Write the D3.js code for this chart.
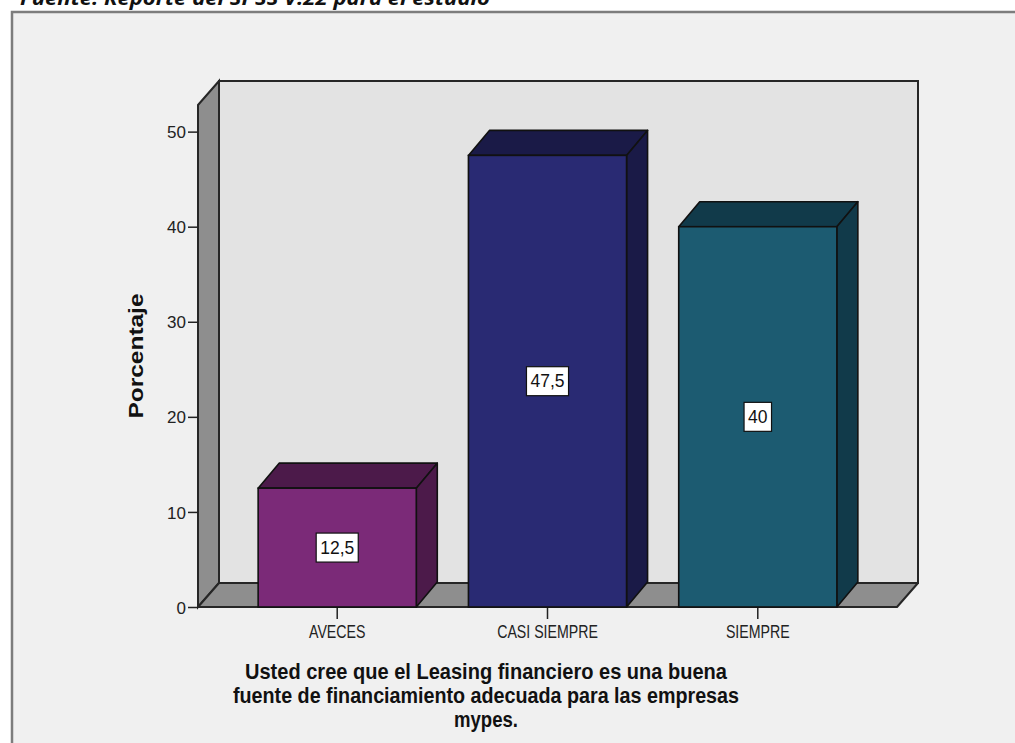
<!DOCTYPE html>
<html>
<head>
<meta charset="utf-8">
<script src="https://cdn.jsdelivr.net/npm/d3@7"></script>
<style>
  html, body { margin: 0; padding: 0; background: #ffffff; }
  svg { display: block; }
  text { font-family: "Liberation Sans", Arial, sans-serif; }
</style>
</head>
<body>
<svg id="chart" width="1015" height="743"></svg>
<script>
// ---- data ----
const categories = ["AVECES", "CASI SIEMPRE", "SIEMPRE"];
const percentages = [12.5, 47.5, 40];
const yTicks = [0, 10, 20, 30, 40, 50];
const frontColors = ["#7b2a78", "#292a73", "#1c5b71"];
const shadeColors = ["#4c1a4a", "#1a1a47", "#113a4a"];
const yTitle = "Porcentaje";
const xTitleLines = [
  "Usted cree que el Leasing financiero es una buena",
  "fuente de financiamiento adecuada para las empresas",
  "mypes."
];
const caption = "Fuente: Reporte del SPSS V.22 para el estudio";

// ---- geometry ----
const svg = d3.select("#chart");
const floorY = 607, wallTopY = 105, axisX = 198, floorRight = 897;
const wallDx = 21, wallDy = -24;   // depth of walls / floor
const barDx = 21, barDy = -25;     // depth of the 3D bars
const axisMax = 52.8;

const x = d3.scaleBand().domain(categories)
  .range([axisX, floorRight]).paddingInner(0.248).paddingOuter(0.286);
const y = d3.scaleLinear().domain([0, axisMax]).range([floorY, wallTopY]);

// cropped caption line above the frame
svg.append("text")
  .attr("x", 20).attr("y", 5)
  .attr("textLength", 470).attr("lengthAdjust", "spacingAndGlyphs")
  .style("font-family", "'Open Sans', 'DejaVu Sans', sans-serif")
  .style("font-style", "italic").style("font-weight", "bold")
  .style("font-size", "19px").attr("fill", "#111")
  .text(caption);

// outer frame
svg.append("rect")
  .attr("x", 12).attr("y", 12).attr("width", 1020).attr("height", 800)
  .attr("fill", "#f0f0f0").attr("stroke", "#7d7d7d").attr("stroke-width", 2.5);

const pts = a => a.map(p => p.join(",")).join(" ");
const wallStroke = "#262626";

// back wall
svg.append("polygon")
  .attr("points", pts([[axisX + wallDx, y(axisMax) + wallDy], [floorRight + wallDx, y(axisMax) + wallDy],
                       [floorRight + wallDx, floorY + wallDy], [axisX + wallDx, floorY + wallDy]]))
  .attr("fill", "#e3e3e3").attr("stroke", wallStroke).attr("stroke-width", 2);

// left side wall
svg.append("polygon")
  .attr("points", pts([[axisX, y(axisMax)], [axisX + wallDx, y(axisMax) + wallDy],
                       [axisX + wallDx, floorY + wallDy], [axisX, floorY]]))
  .attr("fill", "#8e8e8e").attr("stroke", wallStroke).attr("stroke-width", 2);

// floor
svg.append("polygon")
  .attr("points", pts([[axisX, floorY], [axisX + wallDx, floorY + wallDy],
                       [floorRight + wallDx, floorY + wallDy], [floorRight, floorY]]))
  .attr("fill", "#8e8e8e").attr("stroke", wallStroke).attr("stroke-width", 2)
  .attr("stroke-linejoin", "round");

// y axis
const yAxis = svg.append("g")
  .attr("transform", `translate(${axisX},0)`)
  .call(d3.axisLeft(y).tickValues(yTicks).tickSize(10).tickPadding(2).tickSizeOuter(0));
yAxis.select(".domain").remove();
yAxis.selectAll(".tick line").attr("stroke", "#222").attr("stroke-width", 1.5);
yAxis.selectAll(".tick text")
  .style("font-size", "17px").attr("fill", "#222").attr("dy", "0.36em");

// x axis
const xAxis = svg.append("g")
  .attr("transform", `translate(0,${floorY})`)
  .call(d3.axisBottom(x).tickSize(12).tickSizeOuter(0));
xAxis.select(".domain").remove();
xAxis.selectAll(".tick line").attr("stroke", "#222").attr("stroke-width", 1.5);
xAxis.selectAll(".tick text")
  .attr("y", 31).attr("dy", null)
  .attr("transform", "scale(0.81,1)")
  .style("font-size", "17.5px").attr("fill", "#222");

// bars
const bars = svg.append("g").selectAll("g")
  .data(categories.map((c, i) => ({ c, v: percentages[i], i })))
  .join("g");

bars.each(function (d) {
  const g = d3.select(this);
  const x0 = x(d.c), x1 = x0 + x.bandwidth(), yt = y(d.v);
  g.append("polygon")
    .attr("points", pts([[x0, yt], [x0 + barDx, yt + barDy], [x1 + barDx, yt + barDy], [x1, yt]]))
    .attr("fill", shadeColors[d.i]).attr("stroke", "#111").attr("stroke-width", 1.6)
    .attr("stroke-linejoin", "round");
  g.append("polygon")
    .attr("points", pts([[x1, yt], [x1 + barDx, yt + barDy], [x1 + barDx, floorY + barDy], [x1, floorY]]))
    .attr("fill", shadeColors[d.i]).attr("stroke", "#111").attr("stroke-width", 1.6)
    .attr("stroke-linejoin", "round");
  g.append("rect")
    .attr("x", x0).attr("y", yt).attr("width", x1 - x0).attr("height", floorY - yt)
    .attr("fill", frontColors[d.i]).attr("stroke", "#111").attr("stroke-width", 1.6);

  // value label in a white box
  const cx = (x0 + x1) / 2, cy = (yt + floorY) / 2;
  const lab = g.append("g");
  const rect = lab.append("rect");
  const t = lab.append("text")
    .attr("x", cx).attr("y", cy).attr("dy", "0.36em")
    .attr("text-anchor", "middle")
    .style("font-size", "17.5px").attr("fill", "#111")
    .text(String(d.v).replace(".", ","));
  const w = t.node().getComputedTextLength() + 8, h = 29;
  rect.attr("x", cx - w / 2).attr("y", cy - h / 2).attr("width", w).attr("height", h)
    .attr("fill", "#ffffff").attr("stroke", "#111").attr("stroke-width", 1.2);
});

// y title
svg.append("text")
  .attr("transform", "translate(143,356) rotate(-90)")
  .attr("text-anchor", "middle")
  .attr("textLength", 125).attr("lengthAdjust", "spacingAndGlyphs")
  .style("font-size", "20px").style("font-weight", "bold").attr("fill", "#111")
  .text(yTitle);

// x title
const titleWidths = [482, 506, 64];
svg.append("g").selectAll("text")
  .data(xTitleLines)
  .join("text")
  .attr("x", (d, i) => 486 - titleWidths[i] / 2 + titleWidths[i] / 2)
  .attr("y", (d, i) => 679 + i * 24)
  .attr("text-anchor", "middle")
  .attr("textLength", (d, i) => titleWidths[i])
  .attr("lengthAdjust", "spacingAndGlyphs")
  .style("font-size", "21.5px").style("font-weight", "bold").attr("fill", "#111")
  .text(d => d);
</script>
</body>
</html>
